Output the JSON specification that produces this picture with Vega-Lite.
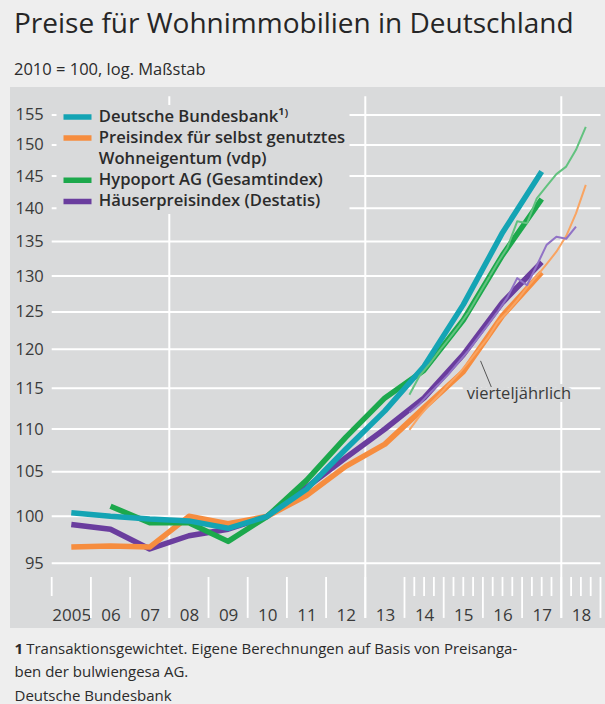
{
  "$schema": "https://vega.github.io/schema/vega-lite/v6.json",
  "width": 595,
  "height": 541,
  "autosize": {"type": "none"},
  "padding": {"left": 10, "top": 87, "right": 0, "bottom": 76},
  "background": "#eeeeee",
  "config": {
    "view": {"fill": "#d9dadb", "stroke": null},
    "font": "Open Sans",
    "axis": {"labelFont": "Open Sans", "titleFont": "Open Sans"},
    "legend": {"labelFont": "Open Sans"},
    "text": {"font": "Open Sans"}
  },
  "title": {
    "text": "Preise für Wohnimmobilien in Deutschland",
    "subtitle": "2010 = 100, log. Maßstab",
    "anchor": "start",
    "frame": "group",
    "font": "Open Sans",
    "fontSize": 28,
    "fontWeight": "normal",
    "color": "#262626",
    "subtitleFont": "Open Sans",
    "subtitleFontSize": 16.5,
    "subtitleColor": "#2b2b2b",
    "subtitlePadding": 23,
    "offset": 9,
    "dx": 4
  },
  "datasets": {
    "grid": [{"v": 95}, {"v": 100}, {"v": 105}, {"v": 110}, {"v": 115}, {"v": 120}, {"v": 125}, {"v": 130}, {"v": 135}, {"v": 140}, {"v": 145}, {"v": 150}, {"v": 155}],
    "vlines": [{"t": 2008}, {"t": 2013}, {"t": 2018}],
    "yearTicks": [{"t": 2006}, {"t": 2007}, {"t": 2008}, {"t": 2009}, {"t": 2010}, {"t": 2011}, {"t": 2012}, {"t": 2013}, {"t": 2014}, {"t": 2015}, {"t": 2016}, {"t": 2017}, {"t": 2018}, {"t": 2019}],
    "quarterTicks": [{"t": 2005}, {"t": 2014.25}, {"t": 2014.5}, {"t": 2014.75}, {"t": 2015.25}, {"t": 2015.5}, {"t": 2015.75}, {"t": 2016.25}, {"t": 2016.5}, {"t": 2016.75}, {"t": 2017.25}, {"t": 2017.5}, {"t": 2017.75}, {"t": 2018.25}, {"t": 2018.5}, {"t": 2018.75}],
    "annual": [
      {"series": "Häuserpreisindex (Destatis)", "t": 2005.5, "value": 99.1},
      {"series": "Häuserpreisindex (Destatis)", "t": 2006.5, "value": 98.6},
      {"series": "Häuserpreisindex (Destatis)", "t": 2007.5, "value": 96.5},
      {"series": "Häuserpreisindex (Destatis)", "t": 2008.5, "value": 97.9},
      {"series": "Häuserpreisindex (Destatis)", "t": 2009.5, "value": 98.6},
      {"series": "Häuserpreisindex (Destatis)", "t": 2010.5, "value": 100.0},
      {"series": "Häuserpreisindex (Destatis)", "t": 2011.5, "value": 103.2},
      {"series": "Häuserpreisindex (Destatis)", "t": 2012.5, "value": 106.6},
      {"series": "Häuserpreisindex (Destatis)", "t": 2013.5, "value": 110.0},
      {"series": "Häuserpreisindex (Destatis)", "t": 2014.5, "value": 113.8},
      {"series": "Häuserpreisindex (Destatis)", "t": 2015.5, "value": 119.3},
      {"series": "Häuserpreisindex (Destatis)", "t": 2016.5, "value": 126.3},
      {"series": "Häuserpreisindex (Destatis)", "t": 2017.5, "value": 132.0},
      {"series": "Preisindex für selbst genutztes Wohneigentum (vdp)", "t": 2005.5, "value": 96.7},
      {"series": "Preisindex für selbst genutztes Wohneigentum (vdp)", "t": 2006.5, "value": 96.8},
      {"series": "Preisindex für selbst genutztes Wohneigentum (vdp)", "t": 2007.5, "value": 96.7},
      {"series": "Preisindex für selbst genutztes Wohneigentum (vdp)", "t": 2008.5, "value": 100.0},
      {"series": "Preisindex für selbst genutztes Wohneigentum (vdp)", "t": 2009.5, "value": 99.2},
      {"series": "Preisindex für selbst genutztes Wohneigentum (vdp)", "t": 2010.5, "value": 100.0},
      {"series": "Preisindex für selbst genutztes Wohneigentum (vdp)", "t": 2011.5, "value": 102.3},
      {"series": "Preisindex für selbst genutztes Wohneigentum (vdp)", "t": 2012.5, "value": 105.6},
      {"series": "Preisindex für selbst genutztes Wohneigentum (vdp)", "t": 2013.5, "value": 108.2},
      {"series": "Preisindex für selbst genutztes Wohneigentum (vdp)", "t": 2014.5, "value": 112.6},
      {"series": "Preisindex für selbst genutztes Wohneigentum (vdp)", "t": 2015.5, "value": 117.1},
      {"series": "Preisindex für selbst genutztes Wohneigentum (vdp)", "t": 2016.5, "value": 124.5},
      {"series": "Preisindex für selbst genutztes Wohneigentum (vdp)", "t": 2017.5, "value": 130.5},
      {"series": "Hypoport AG (Gesamtindex)", "t": 2006.5, "value": 101.1},
      {"series": "Hypoport AG (Gesamtindex)", "t": 2007.5, "value": 99.3},
      {"series": "Hypoport AG (Gesamtindex)", "t": 2008.5, "value": 99.3},
      {"series": "Hypoport AG (Gesamtindex)", "t": 2009.5, "value": 97.3},
      {"series": "Hypoport AG (Gesamtindex)", "t": 2010.5, "value": 100.0},
      {"series": "Hypoport AG (Gesamtindex)", "t": 2011.5, "value": 104.0},
      {"series": "Hypoport AG (Gesamtindex)", "t": 2012.5, "value": 109.0},
      {"series": "Hypoport AG (Gesamtindex)", "t": 2013.5, "value": 113.8},
      {"series": "Hypoport AG (Gesamtindex)", "t": 2014.5, "value": 117.3},
      {"series": "Hypoport AG (Gesamtindex)", "t": 2015.5, "value": 123.9},
      {"series": "Hypoport AG (Gesamtindex)", "t": 2016.5, "value": 133.0},
      {"series": "Hypoport AG (Gesamtindex)", "t": 2017.5, "value": 141.4},
      {"series": "Deutsche Bundesbank¹⁾", "t": 2005.5, "value": 100.4},
      {"series": "Deutsche Bundesbank¹⁾", "t": 2006.5, "value": 100.0},
      {"series": "Deutsche Bundesbank¹⁾", "t": 2007.5, "value": 99.7},
      {"series": "Deutsche Bundesbank¹⁾", "t": 2008.5, "value": 99.5},
      {"series": "Deutsche Bundesbank¹⁾", "t": 2009.5, "value": 98.7},
      {"series": "Deutsche Bundesbank¹⁾", "t": 2010.5, "value": 100.0},
      {"series": "Deutsche Bundesbank¹⁾", "t": 2011.5, "value": 103.0},
      {"series": "Deutsche Bundesbank¹⁾", "t": 2012.5, "value": 107.6},
      {"series": "Deutsche Bundesbank¹⁾", "t": 2013.5, "value": 112.2},
      {"series": "Deutsche Bundesbank¹⁾", "t": 2014.5, "value": 117.8},
      {"series": "Deutsche Bundesbank¹⁾", "t": 2015.5, "value": 126.0},
      {"series": "Deutsche Bundesbank¹⁾", "t": 2016.5, "value": 136.3},
      {"series": "Deutsche Bundesbank¹⁾", "t": 2017.5, "value": 145.7}
    ],
    "quarterly": [
      {"series": "Hypoport AG (Gesamtindex)", "t": 2014.125, "value": 114.2},
      {"series": "Hypoport AG (Gesamtindex)", "t": 2014.375, "value": 116.5},
      {"series": "Hypoport AG (Gesamtindex)", "t": 2014.625, "value": 118.0},
      {"series": "Hypoport AG (Gesamtindex)", "t": 2014.875, "value": 119.7},
      {"series": "Hypoport AG (Gesamtindex)", "t": 2015.125, "value": 121.3},
      {"series": "Hypoport AG (Gesamtindex)", "t": 2015.375, "value": 123.0},
      {"series": "Hypoport AG (Gesamtindex)", "t": 2015.625, "value": 124.9},
      {"series": "Hypoport AG (Gesamtindex)", "t": 2015.875, "value": 127.2},
      {"series": "Hypoport AG (Gesamtindex)", "t": 2016.125, "value": 129.5},
      {"series": "Hypoport AG (Gesamtindex)", "t": 2016.375, "value": 131.9},
      {"series": "Hypoport AG (Gesamtindex)", "t": 2016.625, "value": 134.1},
      {"series": "Hypoport AG (Gesamtindex)", "t": 2016.875, "value": 138.0},
      {"series": "Hypoport AG (Gesamtindex)", "t": 2017.125, "value": 137.7},
      {"series": "Hypoport AG (Gesamtindex)", "t": 2017.375, "value": 141.5},
      {"series": "Hypoport AG (Gesamtindex)", "t": 2017.625, "value": 143.4},
      {"series": "Hypoport AG (Gesamtindex)", "t": 2017.875, "value": 145.3},
      {"series": "Hypoport AG (Gesamtindex)", "t": 2018.125, "value": 146.5},
      {"series": "Hypoport AG (Gesamtindex)", "t": 2018.375, "value": 149.2},
      {"series": "Hypoport AG (Gesamtindex)", "t": 2018.625, "value": 153.0},
      {"series": "Preisindex für selbst genutztes Wohneigentum (vdp)", "t": 2014.125, "value": 109.9},
      {"series": "Preisindex für selbst genutztes Wohneigentum (vdp)", "t": 2014.375, "value": 111.5},
      {"series": "Preisindex für selbst genutztes Wohneigentum (vdp)", "t": 2014.625, "value": 112.9},
      {"series": "Preisindex für selbst genutztes Wohneigentum (vdp)", "t": 2014.875, "value": 114.1},
      {"series": "Preisindex für selbst genutztes Wohneigentum (vdp)", "t": 2015.125, "value": 115.5},
      {"series": "Preisindex für selbst genutztes Wohneigentum (vdp)", "t": 2015.375, "value": 116.8},
      {"series": "Preisindex für selbst genutztes Wohneigentum (vdp)", "t": 2015.625, "value": 118.3},
      {"series": "Preisindex für selbst genutztes Wohneigentum (vdp)", "t": 2015.875, "value": 119.9},
      {"series": "Preisindex für selbst genutztes Wohneigentum (vdp)", "t": 2016.125, "value": 121.5},
      {"series": "Preisindex für selbst genutztes Wohneigentum (vdp)", "t": 2016.375, "value": 123.6},
      {"series": "Preisindex für selbst genutztes Wohneigentum (vdp)", "t": 2016.625, "value": 125.0},
      {"series": "Preisindex für selbst genutztes Wohneigentum (vdp)", "t": 2016.875, "value": 126.6},
      {"series": "Preisindex für selbst genutztes Wohneigentum (vdp)", "t": 2017.125, "value": 128.4},
      {"series": "Preisindex für selbst genutztes Wohneigentum (vdp)", "t": 2017.375, "value": 130.0},
      {"series": "Preisindex für selbst genutztes Wohneigentum (vdp)", "t": 2017.625, "value": 131.7},
      {"series": "Preisindex für selbst genutztes Wohneigentum (vdp)", "t": 2017.875, "value": 133.5},
      {"series": "Preisindex für selbst genutztes Wohneigentum (vdp)", "t": 2018.125, "value": 135.8},
      {"series": "Preisindex für selbst genutztes Wohneigentum (vdp)", "t": 2018.375, "value": 139.2},
      {"series": "Preisindex für selbst genutztes Wohneigentum (vdp)", "t": 2018.625, "value": 143.6},
      {"series": "Häuserpreisindex (Destatis)", "t": 2014.125, "value": 112.0},
      {"series": "Häuserpreisindex (Destatis)", "t": 2014.375, "value": 113.0},
      {"series": "Häuserpreisindex (Destatis)", "t": 2014.625, "value": 114.3},
      {"series": "Häuserpreisindex (Destatis)", "t": 2014.875, "value": 115.5},
      {"series": "Häuserpreisindex (Destatis)", "t": 2015.125, "value": 116.8},
      {"series": "Häuserpreisindex (Destatis)", "t": 2015.375, "value": 118.3},
      {"series": "Häuserpreisindex (Destatis)", "t": 2015.625, "value": 119.8},
      {"series": "Häuserpreisindex (Destatis)", "t": 2015.875, "value": 121.5},
      {"series": "Häuserpreisindex (Destatis)", "t": 2016.125, "value": 123.2},
      {"series": "Häuserpreisindex (Destatis)", "t": 2016.375, "value": 125.0},
      {"series": "Häuserpreisindex (Destatis)", "t": 2016.625, "value": 127.0},
      {"series": "Häuserpreisindex (Destatis)", "t": 2016.875, "value": 129.7},
      {"series": "Häuserpreisindex (Destatis)", "t": 2017.125, "value": 128.7},
      {"series": "Häuserpreisindex (Destatis)", "t": 2017.375, "value": 131.5},
      {"series": "Häuserpreisindex (Destatis)", "t": 2017.625, "value": 134.5},
      {"series": "Häuserpreisindex (Destatis)", "t": 2017.875, "value": 135.7},
      {"series": "Häuserpreisindex (Destatis)", "t": 2018.125, "value": 135.4},
      {"series": "Häuserpreisindex (Destatis)", "t": 2018.375, "value": 137.2}
    ],
    "note": [{"t": 2016.92, "v": 114.3, "label": "vierteljährlich"}],
    "leader": [{"t": 2015.94, "v": 118.5, "t2": 2016.22, "v2": 115.1}]
  },
  "layer": [
    {
      "data": {"name": "grid"},
      "mark": {"type": "rule", "color": "#ffffff", "strokeWidth": 2},
      "encoding": {
        "y": {
          "field": "v", "type": "quantitative",
          "scale": {"type": "log", "domain": [88.52, 159.8], "nice": false, "zero": false},
          "axis": {
            "orient": "left", "offset": -41.7, "domain": false, "ticks": false, "grid": false,
            "values": [95, 100, 105, 110, 115, 120, 125, 130, 135, 140, 145, 150, 155],
            "format": "d", "labelPadding": 8.4, "labelFontSize": 16.5, "labelColor": "#3a3a3a",
            "labelOverlap": false, "labelBound": false, "labelFlush": false,
            "title": "1", "titleAngle": 0, "titleFontWeight": "bold", "titleFontSize": 15,
            "titleColor": "#2b2b2b", "titleX": -37.7, "titleY": 566, "titleAlign": "left",
            "titleBaseline": "alphabetic", "titleAnchor": null
          }
        },
        "x": {"datum": 2005, "type": "quantitative", "scale": {"domain": [2003.936, 2019.115], "nice": false, "zero": false}},
        "x2": {"datum": 2019}
      }
    },
    {
      "data": {"name": "vlines"},
      "mark": {"type": "rule", "color": "#ffffff", "strokeWidth": 2},
      "encoding": {
        "x": {
          "field": "t", "type": "quantitative",
          "scale": {"domain": [2003.936, 2019.115], "nice": false, "zero": false},
          "axis": {
            "orient": "bottom", "offset": -51, "domain": false, "grid": false, "ticks": false,
            "values": [2005.5, 2006.5, 2007.5, 2008.5, 2009.5, 2010.5, 2011.5, 2012.5, 2013.5, 2014.5, 2015.5, 2016.5, 2017.5, 2018.5],
            "labelExpr": "datum.value < 2006 ? '2005' : slice(toString(floor(datum.value)), 2)",
            "labelFontSize": 17, "labelColor": "#3a3a3a", "labelPadding": 30,
            "labelOverlap": false, "labelBound": false, "labelFlush": false,
            "title": ["\u200b\u00a0\u00a0\u00a0Transaktionsgewichtet. Eigene Berechnungen auf Basis von Preisanga-", "ben der bulwiengesa AG.", "Deutsche Bundesbank"],
            "titleFontSize": 15, "titleFontWeight": "normal", "titleColor": "#2b2b2b",
            "titleAnchor": "start", "titleAlign": "left", "titleBaseline": "alphabetic",
            "titleX": 4, "titleY": 76, "titleLineHeight": 23.5
          }
        },
        "y": {"datum": 89.5, "type": "quantitative", "scale": {"type": "log", "domain": [88.52, 159.8], "nice": false, "zero": false}},
        "y2": {"datum": 158.2}
      }
    },
    {
      "data": {"name": "yearTicks"},
      "mark": {"type": "rule", "color": "#ffffff", "strokeWidth": 1.8},
      "encoding": {
        "x": {"field": "t", "type": "quantitative"},
        "y": {"datum": 93.59, "type": "quantitative"},
        "y2": {"datum": 89.5}
      }
    },
    {
      "data": {"name": "quarterTicks"},
      "mark": {"type": "rule", "color": "#ffffff", "strokeWidth": 1.8},
      "encoding": {
        "x": {"field": "t", "type": "quantitative"},
        "y": {"datum": 93.59, "type": "quantitative"},
        "y2": {"datum": 91.67}
      }
    },
    {
      "data": {"name": "annual"},
      "mark": {"type": "line", "strokeWidth": 5.5, "strokeCap": "butt", "strokeJoin": "round"},
      "encoding": {
        "x": {"field": "t", "type": "quantitative", "scale": {"domain": [2003.936, 2019.115], "nice": false, "zero": false}},
        "y": {"field": "value", "type": "quantitative", "scale": {"type": "log", "domain": [88.52, 159.8], "nice": false, "zero": false}},
        "color": {
          "field": "series", "type": "nominal",
          "scale": {
            "domain": ["Deutsche Bundesbank¹⁾", "Preisindex für selbst genutztes Wohneigentum (vdp)", "Wohneigentum (vdp)", "Hypoport AG (Gesamtindex)", "Häuserpreisindex (Destatis)"],
            "range": ["#14a4b4", "#f68d3f", "rgba(0,0,0,0)", "#1ca84c", "#6a3d9e"]
          },
          "legend": {
            "orient": "none", "legendX": 46.5, "legendY": 18, "title": null, "padding": 4,
            "fillColor": "#d9dadb", "strokeColor": null,
            "symbolType": "stroke", "symbolSize": 784, "symbolStrokeWidth": 5.5,
            "clipHeight": 16, "rowPadding": 4.1, "labelOffset": 4.3,
            "labelFontSize": 16.6, "labelFontWeight": 600, "labelColor": "#2b2b2b", "labelLimit": 400,
            "labelExpr": "datum.value == 'Preisindex für selbst genutztes Wohneigentum (vdp)' ? 'Preisindex für selbst genutztes' : datum.label"
          }
        },
        "order": {"field": "t", "type": "quantitative"}
      }
    },
    {
      "data": {"name": "quarterly"},
      "mark": {"type": "line", "strokeWidth": 2, "strokeJoin": "round"},
      "encoding": {
        "x": {"field": "t", "type": "quantitative", "scale": {"domain": [2003.936, 2019.115], "nice": false, "zero": false}},
        "y": {"field": "value", "type": "quantitative", "scale": {"type": "log", "domain": [88.52, 159.8], "nice": false, "zero": false}},
        "color": {
          "field": "series", "type": "nominal",
          "scale": {
            "domain": ["Preisindex für selbst genutztes Wohneigentum (vdp)", "Hypoport AG (Gesamtindex)", "Häuserpreisindex (Destatis)"],
            "range": ["#f9a462", "#62c27f", "#9173c6"]
          },
          "legend": null
        }
      }
    },
    {
      "data": {"name": "leader"},
      "mark": {"type": "rule", "color": "#555555", "strokeWidth": 1},
      "encoding": {
        "x": {"field": "t", "type": "quantitative"},
        "y": {"field": "v", "type": "quantitative"},
        "x2": {"field": "t2"},
        "y2": {"field": "v2"}
      }
    },
    {
      "data": {"name": "note"},
      "mark": {"type": "text", "fontSize": 16.5, "stroke": "#d9dadb", "strokeWidth": 6, "color": "#d9dadb", "align": "center", "baseline": "middle"},
      "encoding": {
        "x": {"field": "t", "type": "quantitative"},
        "y": {"field": "v", "type": "quantitative"},
        "text": {"field": "label"}
      }
    },
    {
      "data": {"name": "note"},
      "mark": {"type": "text", "fontSize": 16.5, "color": "#3a3a3a", "align": "center", "baseline": "middle"},
      "encoding": {
        "x": {"field": "t", "type": "quantitative"},
        "y": {"field": "v", "type": "quantitative"},
        "text": {"field": "label"}
      }
    }
  ],
  "resolve": {"scale": {"color": "independent"}}
}
